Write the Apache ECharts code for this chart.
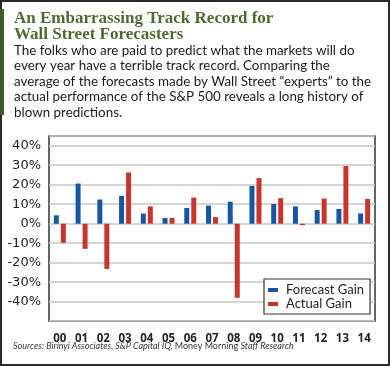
<!DOCTYPE html>
<html>
<head>
<meta charset="utf-8">
<script src="https://cdn.jsdelivr.net/npm/echarts@6/dist/echarts.min.js"></script>
<style>
html,body{margin:0;padding:0;background:#fff;}
#c{width:390px;height:366px;}
</style>
</head>
<body>
<div id="c"></div>
<script>
// ---- data ----
var years = ['00','01','02','03','04','05','06','07','08','09','10','11','12','13','14'];
var forecastGain = [4.3, 20.6, 12.4, 14.3, 5.2, 2.9, 8.1, 9.3, 11.3, 19.4, 10.1, 8.9, 7.0, 7.6, 5.3];
var actualGain = [-9.8, -12.9, -23.2, 26.3, 8.9, 3.0, 13.4, 3.4, -38.0, 23.4, 13.1, -0.7, 12.9, 29.6, 12.7];
var titleLines = ['An Embarrassing Track Record for', 'Wall Street Forecasters'];
var bodyLines = [
  'The folks who are paid to predict what the markets will do',
  'every year have a terrible track record. Comparing the',
  'average of the forecasts made by Wall Street \u201cexperts\u201d to the',
  'actual performance of the S&P 500 reveals a long history of',
  'blown predictions.'
];
var seriesNames = ['Forecast Gain', 'Actual Gain'];

var chart = echarts.init(document.getElementById('c'), null, {renderer: 'canvas'});

var graphics = [
  {type: 'rect', shape: {x: 1, y: 1, width: 388, height: 364}, style: {fill: 'none', stroke: '#2a2a2a', lineWidth: 2}, z: 100},
  {type: 'rect', shape: {x: 0, y: 9, width: 4, height: 106}, style: {fill: '#3f5a26'}, z: 101}
];
titleLines.forEach(function (t, i) {
  graphics.push({type: 'text', x: 14, y: 10 + i * 16, style: {text: t, font: 'bold 17px "Liberation Serif"', fill: '#4e6a31', verticalAlign: 'top'}});
});
bodyLines.forEach(function (t, i) {
  graphics.push({type: 'text', x: 14, y: 44 + i * 15.5, style: {text: t, font: '13.4px Lato', fill: '#1a1a1a', verticalAlign: 'top'}});
});
graphics.push({
  type: 'text', x: 13, y: 342,
  style: {
    text: '{i|Sources: Birinyi Associates, S&P Capital IQ, }{n|Money Morning }{i|Staff Research}',
    verticalAlign: 'top',
    rich: {
      i: {fontFamily: 'Lato', fontStyle: 'italic', fontSize: 9, fill: '#333', color: '#333'},
      n: {fontFamily: 'Lato', fontSize: 9, fill: '#333', color: '#333'}
    }
  }
});

chart.setOption({
  animation: false,
  grid: {left: 49, right: 15, top: 136, bottom: 44.8, show: true, borderColor: '#333', borderWidth: 1.5, backgroundColor: 'transparent'},
  legend: {
    data: seriesNames,
    orient: 'vertical',
    left: 264, top: 279,
    backgroundColor: '#fff',
    borderColor: '#333', borderWidth: 1.2,
    padding: [4, 6, 3, 4],
    itemWidth: 10, itemHeight: 4, itemGap: 0,
    icon: 'rect',
    textStyle: {fontFamily: 'Lato', fontSize: 13, color: '#222', padding: [0, 0, 0, 3], lineHeight: 14}
  },
  xAxis: {
    type: 'category',
    data: years,
    axisLine: {show: false},
    axisTick: {show: false},
    axisLabel: {fontFamily: 'Open Sans', fontWeight: 'bold', fontSize: 11.5, color: '#222', margin: 12}
  },
  yAxis: {
    type: 'value',
    min: -50, max: 45, interval: 10,
    axisLine: {show: false},
    axisTick: {show: false},
    splitLine: {lineStyle: {color: '#c6c6c6', width: 1.5}},
    axisLabel: {
      fontFamily: 'DejaVu Sans', fontSize: 13, color: '#222', margin: 8,
      formatter: function (v) { return (v % 10 === 0 && v !== -50) ? v + '%' : ''; }
    }
  },
  series: [
    {name: seriesNames[0], type: 'bar', data: forecastGain, barWidth: 5, barGap: '40%', itemStyle: {color: '#1656a3'}},
    {name: seriesNames[1], type: 'bar', data: actualGain, barWidth: 5, itemStyle: {color: '#c9352c'}}
  ],
  graphic: graphics
});
</script>
</body>
</html>
